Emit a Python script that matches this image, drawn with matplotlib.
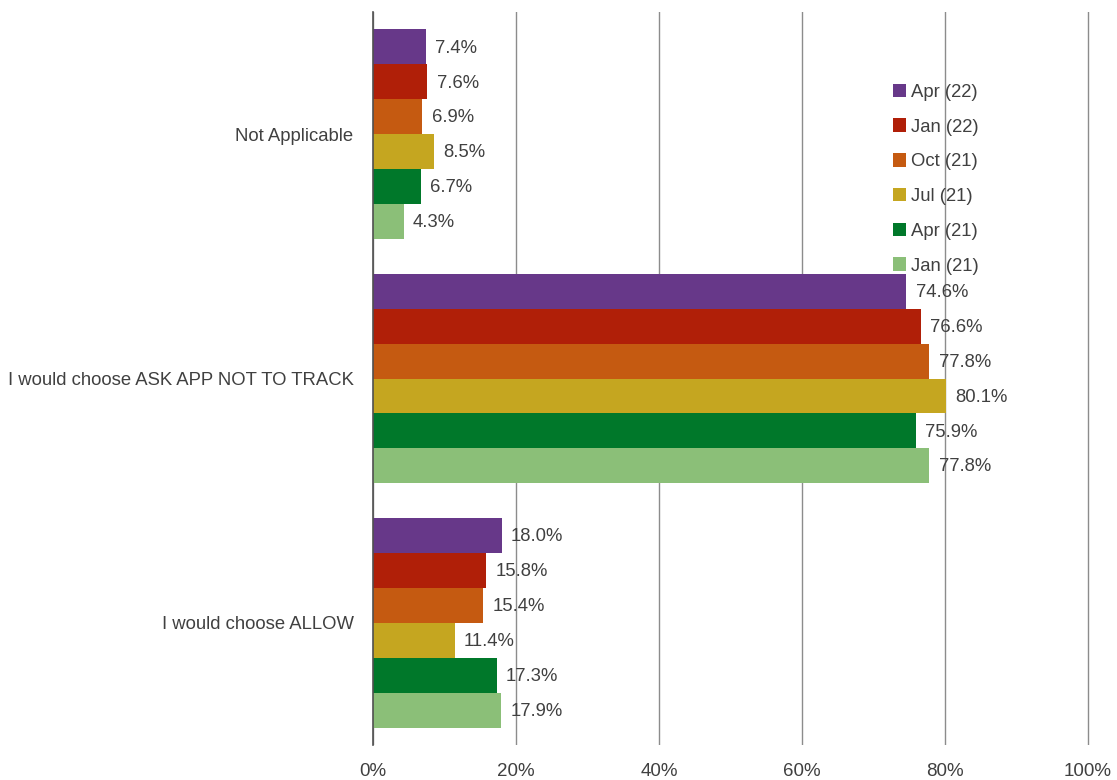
import matplotlib as mpl
import matplotlib.pyplot as plt
import numpy as np

categories = ['Not Applicable', 'I would choose ASK APP NOT TO TRACK',
              'I would choose ALLOW']
series_names = ['Apr (22)', 'Jan (22)', 'Oct (21)', 'Jul (21)', 'Apr (21)',
                'Jan (21)']
apr22 = [7.4, 74.6, 18.0]
jan22 = [7.6, 76.6, 15.8]
oct21 = [6.9, 77.8, 15.4]
jul21 = [8.5, 80.1, 11.4]
apr21 = [6.7, 75.9, 17.3]
jan21 = [4.3, 77.8, 17.9]
series_values = [apr22, jan22, oct21, jul21, apr21, jan21]
colors = ['#673889', '#B01F08', '#C55A11', '#C5A620', '#00782A', '#8BBF78']

mpl.rcParams['font.family'] = ['Liberation Sans', 'DejaVu Sans']
mpl.rcParams['font.size'] = 13.3
text_color = '#404040'

dpi = 100
fig = plt.figure(dpi=dpi, figsize=(1117 / dpi, 780 / dpi))
# axes a touch wider than 100% so the last gridline is not clipped
ax = fig.add_axes([373 / 1117, 1 - 745 / 780, (1090 - 373) / 1117,
                   (745 - 12) / 780])

n = len(series_names)
h = 1 / (n + 1)
ys = np.arange(len(categories))
for i, (name, vals, c) in enumerate(zip(series_names, series_values, colors)):
    pos = ys - 0.5 + h + i * h
    ax.barh(pos, vals, height=h, color=c, label=name, zorder=2)
    for p, v in zip(pos, vals):
        ax.text(v + 1.3, p + 0.005, '%.1f%%' % v, va='center', ha='left',
                color=text_color)

ax.set_ylim(len(categories) - 0.5, -0.5)
ax.set_xlim(0, 100 * (1090 - 373) / (1088 - 373))
ax.set_yticks(ys)
ax.set_yticklabels(categories, color=text_color)
ax.set_xticks(range(0, 101, 20))
ax.set_xticklabels(['%d%%' % x for x in range(0, 101, 20)], color=text_color,
                   fontsize=13.5)
ax.tick_params(axis='both', length=0)
ax.tick_params(axis='y', pad=14)
ax.tick_params(axis='x', pad=13)
ax.xaxis.grid(True, color='#8c8c8c', linewidth=1, zorder=1)
for s in ['top', 'right', 'bottom']:
    ax.spines[s].set_visible(False)
ax.spines['left'].set_color('#505050')
ax.spines['left'].set_linewidth(1.2)
ax.spines['left'].set_zorder(3)

leg = ax.legend(loc='upper left', bbox_to_anchor=(876 / 1117, 1 - 67 / 780),
                bbox_transform=fig.transFigure, frameon=False,
                handlelength=0.75, handleheight=0.75, handletextpad=0.25,
                labelspacing=0.95, fontsize=13.3)
for t in leg.get_texts():
    t.set_color(text_color)

fig.savefig('out.png')
